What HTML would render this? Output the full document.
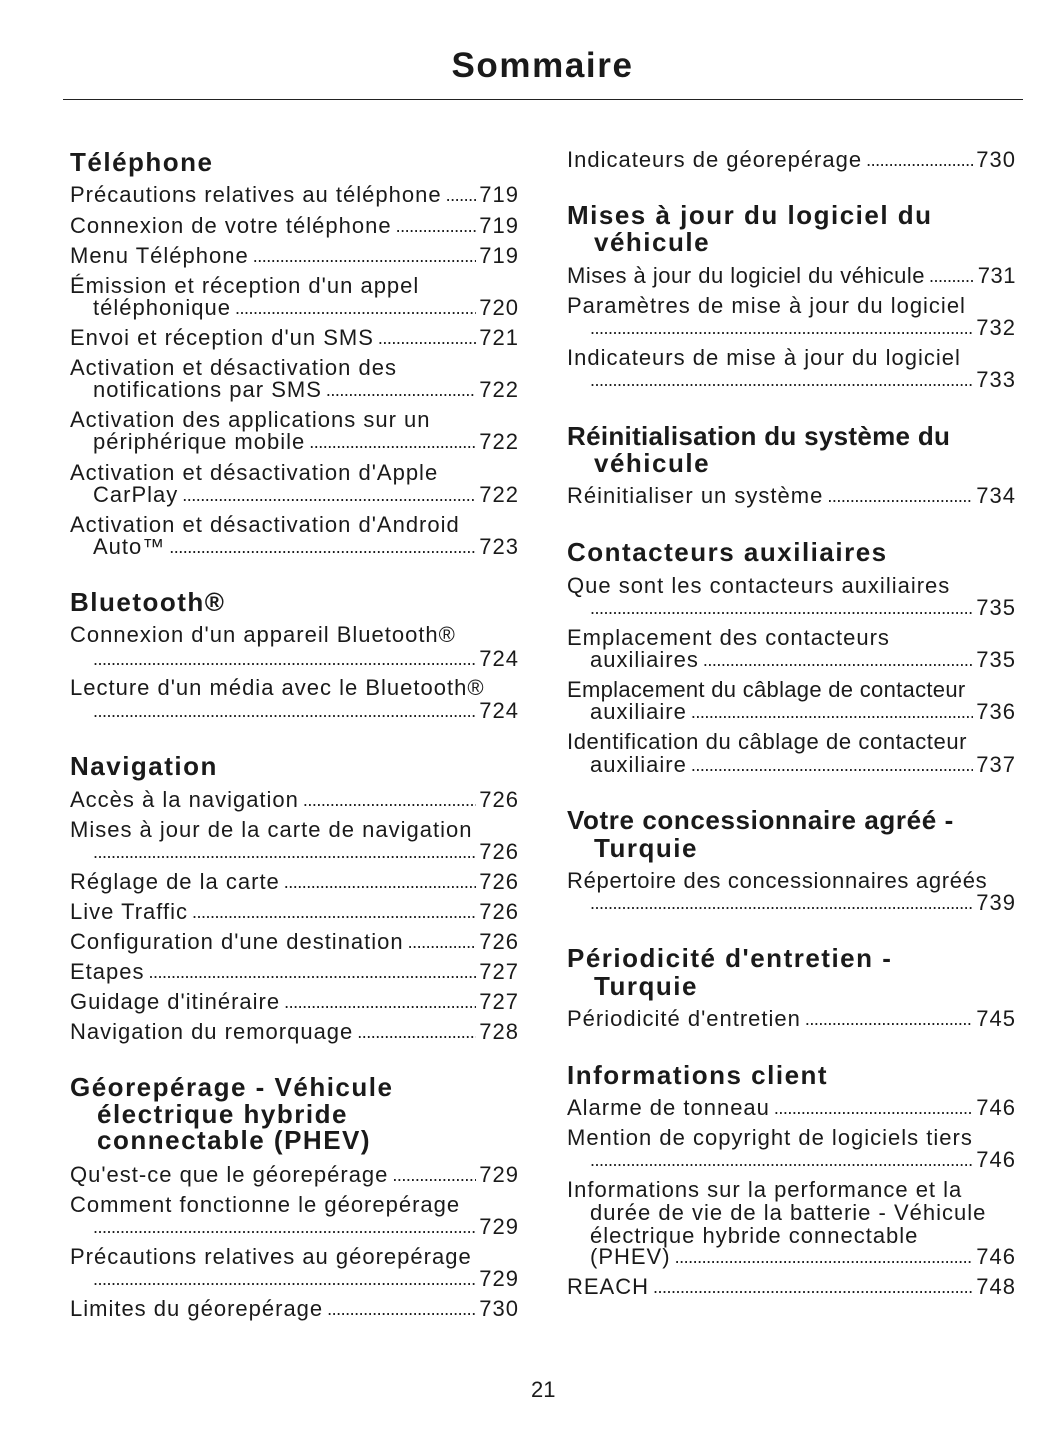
<!DOCTYPE html>
<html><head><meta charset="utf-8"><style>
body{margin:0;background:#fff;}
#p{position:relative;width:1055px;height:1448px;background:#fff;font-family:"Liberation Sans",sans-serif;color:#1a1a1a;overflow:hidden}
.t{position:absolute;left:0;width:1085px;text-align:center;top:46px;font-size:35px;font-weight:bold;letter-spacing:1.6px}
.hr{position:absolute;left:63px;top:99px;width:960px;height:1px;background:#222}
.l{position:absolute;height:26px;line-height:26px;font-size:22px;display:flex;white-space:nowrap;width:449px;letter-spacing:1px}
.L{left:70px}.R{left:567px}
.i{padding-left:23px;box-sizing:border-box}
.d{flex:1;overflow:hidden;font-size:18px;letter-spacing:-0.5px;margin:0 3px 0 4px}
.d::before{content:"........................................................................................................................................................................................................"}
.h{position:absolute;font-size:26px;font-weight:bold;line-height:28px;height:28px;white-space:nowrap;letter-spacing:1.5px}
.hi{padding-left:27px}
.pn{position:absolute;left:531px;top:1377px;font-size:22px}
</style></head><body><div id="p">
<div class="t">Sommaire</div><div class="hr"></div>

<div class="h" style="left:70px;top:148px">Téléphone</div>
<div class="l L" style="top:182px"><span>Précautions relatives au téléphone</span><span class="d"></span><span>719</span></div>
<div class="l L" style="top:213px"><span>Connexion de votre téléphone</span><span class="d"></span><span>719</span></div>
<div class="l L" style="top:243px"><span>Menu Téléphone</span><span class="d"></span><span>719</span></div>
<div class="l L" style="top:273px"><span>Émission et réception d'un appel</span></div>
<div class="l L i" style="top:295px"><span>téléphonique</span><span class="d"></span><span>720</span></div>
<div class="l L" style="top:325px"><span>Envoi et réception d'un SMS</span><span class="d"></span><span>721</span></div>
<div class="l L" style="top:355px"><span>Activation et désactivation des</span></div>
<div class="l L i" style="top:377px"><span>notifications par SMS</span><span class="d"></span><span>722</span></div>
<div class="l L" style="top:407px"><span>Activation des applications sur un</span></div>
<div class="l L i" style="top:429px"><span>périphérique mobile</span><span class="d"></span><span>722</span></div>
<div class="l L" style="top:460px"><span>Activation et désactivation d'Apple</span></div>
<div class="l L i" style="top:482px"><span>CarPlay</span><span class="d"></span><span>722</span></div>
<div class="l L" style="top:512px"><span>Activation et désactivation d'Android</span></div>
<div class="l L i" style="top:534px"><span>Auto™</span><span class="d"></span><span>723</span></div>

<div class="h" style="left:70px;top:588px">Bluetooth®</div>
<div class="l L" style="top:622px"><span>Connexion d'un appareil Bluetooth®</span></div>
<div class="l L i" style="top:646px"><span class="d" style="margin-left:0"></span><span>724</span></div>
<div class="l L" style="top:675px"><span>Lecture d'un média avec le Bluetooth®</span></div>
<div class="l L i" style="top:698px"><span class="d" style="margin-left:0"></span><span>724</span></div>

<div class="h" style="left:70px;top:752px">Navigation</div>
<div class="l L" style="top:787px"><span>Accès à la navigation</span><span class="d"></span><span>726</span></div>
<div class="l L" style="top:817px"><span>Mises à jour de la carte de navigation</span></div>
<div class="l L i" style="top:839px"><span class="d" style="margin-left:0"></span><span>726</span></div>
<div class="l L" style="top:869px"><span>Réglage de la carte</span><span class="d"></span><span>726</span></div>
<div class="l L" style="top:899px"><span>Live Traffic</span><span class="d"></span><span>726</span></div>
<div class="l L" style="top:929px"><span>Configuration d'une destination</span><span class="d"></span><span>726</span></div>
<div class="l L" style="top:959px"><span>Etapes</span><span class="d"></span><span>727</span></div>
<div class="l L" style="top:989px"><span>Guidage d'itinéraire</span><span class="d"></span><span>727</span></div>
<div class="l L" style="top:1019px"><span>Navigation du remorquage</span><span class="d"></span><span>728</span></div>

<div class="h" style="left:70px;top:1073px">Géorepérage - Véhicule</div>
<div class="h hi" style="left:70px;top:1100px">électrique hybride</div>
<div class="h hi" style="left:70px;top:1126px">connectable (PHEV)</div>
<div class="l L" style="top:1162px"><span>Qu'est-ce que le géorepérage</span><span class="d"></span><span>729</span></div>
<div class="l L" style="top:1192px"><span>Comment fonctionne le géorepérage</span></div>
<div class="l L i" style="top:1214px"><span class="d" style="margin-left:0"></span><span>729</span></div>
<div class="l L" style="top:1244px"><span>Précautions relatives au géorepérage</span></div>
<div class="l L i" style="top:1266px"><span class="d" style="margin-left:0"></span><span>729</span></div>
<div class="l L" style="top:1296px"><span>Limites du géorepérage</span><span class="d"></span><span>730</span></div>

<div class="l R" style="top:147px"><span>Indicateurs de géorepérage</span><span class="d"></span><span>730</span></div>
<div class="h" style="left:567px;top:201px">Mises à jour du logiciel du</div>
<div class="h hi" style="left:567px;top:228px">véhicule</div>
<div class="l R" style="top:263px;letter-spacing:0.5px"><span>Mises à jour du logiciel du véhicule</span><span class="d"></span><span>731</span></div>
<div class="l R" style="top:293px"><span>Paramètres de mise à jour du logiciel</span></div>
<div class="l R i" style="top:315px"><span class="d" style="margin-left:0"></span><span>732</span></div>
<div class="l R" style="top:345px"><span>Indicateurs de mise à jour du logiciel</span></div>
<div class="l R i" style="top:367px"><span class="d" style="margin-left:0"></span><span>733</span></div>
<div class="h" style="left:567px;top:422px;letter-spacing:0.3px">Réinitialisation du système du</div>
<div class="h hi" style="left:567px;top:449px">véhicule</div>
<div class="l R" style="top:483px"><span>Réinitialiser un système</span><span class="d"></span><span>734</span></div>
<div class="h" style="left:567px;top:538px">Contacteurs auxiliaires</div>
<div class="l R" style="top:573px"><span>Que sont les contacteurs auxiliaires</span></div>
<div class="l R i" style="top:595px"><span class="d" style="margin-left:0"></span><span>735</span></div>
<div class="l R" style="top:625px"><span>Emplacement des contacteurs</span></div>
<div class="l R i" style="top:647px"><span>auxiliaires</span><span class="d"></span><span>735</span></div>
<div class="l R" style="top:677px;letter-spacing:0.3px"><span>Emplacement du câblage de contacteur</span></div>
<div class="l R i" style="top:699px"><span>auxiliaire</span><span class="d"></span><span>736</span></div>
<div class="l R" style="top:729px;letter-spacing:0.6px"><span>Identification du câblage de contacteur</span></div>
<div class="l R i" style="top:752px"><span>auxiliaire</span><span class="d"></span><span>737</span></div>
<div class="h" style="left:567px;top:806px;letter-spacing:0.6px">Votre concessionnaire agréé -</div>
<div class="h hi" style="left:567px;top:834px">Turquie</div>
<div class="l R" style="top:868px;letter-spacing:0.7px"><span>Répertoire des concessionnaires agréés</span></div>
<div class="l R i" style="top:890px"><span class="d" style="margin-left:0"></span><span>739</span></div>
<div class="h" style="left:567px;top:944px">Périodicité d'entretien -</div>
<div class="h hi" style="left:567px;top:972px">Turquie</div>
<div class="l R" style="top:1006px"><span>Périodicité d'entretien</span><span class="d"></span><span>745</span></div>
<div class="h" style="left:567px;top:1061px">Informations client</div>
<div class="l R" style="top:1095px"><span>Alarme de tonneau</span><span class="d"></span><span>746</span></div>
<div class="l R" style="top:1125px"><span>Mention de copyright de logiciels tiers</span></div>
<div class="l R i" style="top:1147px"><span class="d" style="margin-left:0"></span><span>746</span></div>
<div class="l R" style="top:1177px"><span>Informations sur la performance et la</span></div>
<div class="l R i" style="top:1200px"><span>durée de vie de la batterie - Véhicule</span></div>
<div class="l R i" style="top:1223px"><span>électrique hybride connectable</span></div>
<div class="l R i" style="top:1244px"><span>(PHEV)</span><span class="d"></span><span>746</span></div>
<div class="l R" style="top:1274px"><span>REACH</span><span class="d"></span><span>748</span></div>

<div class="pn">21</div>
</div></body></html>
